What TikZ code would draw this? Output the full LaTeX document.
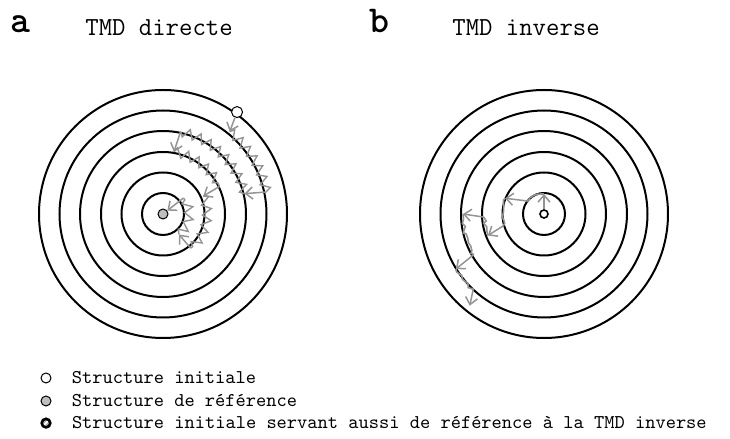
\documentclass[tikz,border=0pt]{standalone}
\usepackage{fontspec}
\newfontfamily\panelfont{lmmonolt10-bold.otf}
\usetikzlibrary{arrows.meta, positioning, calc, decorations.pathmorphing}

\begin{document}
\begin{tikzpicture}[
    x=0.5pt, y=0.5pt,
    ring/.style={draw=black, line width=1pt},
    walk/.style={draw=black!42, line width=0.7pt, decorate,
                 decoration={zigzag, segment length=5.5pt, amplitude=2.3pt}},
    finewalk/.style={draw=black!42, line width=0.8pt, decorate,
                 decoration={random steps, segment length=1.8pt, amplitude=1.1pt}},
    hop/.style={draw=black!42, line width=0.75pt,
                -{Straight Barb[length=3.5pt, width=6pt]}},
    marker/.style={circle, draw=black, line width=0.5pt, inner sep=0pt,
                   minimum size=5pt},
    panel/.style={font=\panelfont\fontsize{19}{22}\selectfont,
                  inner sep=0pt, anchor=base west},
    heading/.style={font=\ttfamily\fontsize{13}{15}\selectfont,
                    inner sep=0pt, anchor=base west},
    legend/.style={font=\ttfamily\fontsize{9.75}{11}\selectfont, inner sep=0pt,
                   text height=1.5ex, text depth=0.2ex}
]
\pgfmathsetseed{11}
\useasboundingbox (0,0) rectangle (730,439);

%% ── Titles ──────────────────────────────────────────────────────────────────
\node[panel]   (pa) at (10,406)  {a};
\node[heading] (ha) at (85,403)  {TMD directe};
\node[panel]   (pb) at (369,406) {b};
\node[heading] (hb) at (452,403) {TMD inverse};

%% ── Rings ───────────────────────────────────────────────────────────────────
\coordinate (ca) at (163,225);
\coordinate (cb) at (544,225);
\foreach \r in {21,41.5,62,83,103.5,124} {
    \draw[ring] (ca) circle[radius=\r];
    \draw[ring] (cb) circle[radius=\r];
}

% Structures
\node[marker, fill=black!25]                 (ra) at (ca) {};
\node[marker, fill=white, minimum size=5.5pt] (sa) at ($(ca)+(54:126)$) {};
\node[marker, fill=white, line width=0.8pt, minimum size=4pt] (rb) at (cb) {};

%% ── a: TMD directe ──────────────────────────────────────────────────────────
\coordinate (a1)  at ($(ca)+(51:106)$);
\coordinate (a2)  at ($(ca)+(12:106)$);
\coordinate (a3)  at ($(ca)+(14:84)$);
\coordinate (a4)  at ($(ca)+(78:84)$);
\coordinate (a5)  at ($(ca)+(80:63)$);
\coordinate (a6)  at ($(ca)+(26:63)$);
\coordinate (a7)  at ($(ca)+(24:44)$);
\coordinate (a8)  at ($(ca)+(-51:44)$);
\coordinate (a9)  at ($(ca)+(-52:26)$);
\coordinate (a10) at ($(ca)+(38:26)$);

\draw[hop]  (sa) -- (a1);
\draw[walk] (a1) arc[start angle=51, end angle=12, radius=106];
\draw[hop]  (a2) -- (a3);
\draw[walk] (a3) arc[start angle=14, end angle=78, radius=84];
\draw[hop]  (a4) -- (a5);
\draw[walk] (a5) arc[start angle=80, end angle=26, radius=63];
\draw[hop]  (a6) -- (a7);
\draw[walk] (a7) arc[start angle=24, end angle=-51, radius=44];
\draw[hop]  (a8) -- (a9);
\draw[walk] (a9) arc[start angle=-52, end angle=38, radius=26];
\draw[hop]  (a10) -- (ra);

%% ── b: TMD inverse ──────────────────────────────────────────────────────────
\coordinate (b1)  at ($(cb)+(90:20)$);
\coordinate (b2)  at ($(cb)+(140:20)$);
\coordinate (b3)  at ($(cb)+(158:42)$);
\coordinate (b4)  at ($(cb)+(196:42)$);
\coordinate (b5)  at ($(cb)+(201:60)$);
\coordinate (b6)  at ($(cb)+(183:60)$);
\coordinate (b7)  at ($(cb)+(180:81)$);
\coordinate (b8)  at ($(cb)+(210:81)$);
\coordinate (b9)  at ($(cb)+(212:104)$);
\coordinate (b10) at ($(cb)+(227:104)$);
\coordinate (b11) at ($(cb)+(231:118)$);

\draw[hop]      (rb) -- (b1);
\draw[finewalk] (b1) arc[start angle=90, end angle=140, radius=20];
\draw[hop]      (b2) -- (b3);
\draw[finewalk] (b3) arc[start angle=158, end angle=196, radius=42];
\draw[hop]      (b4) -- (b5);
\draw[finewalk] (b5) arc[start angle=201, end angle=183, radius=60];
\draw[hop]      (b6) -- (b7);
\draw[finewalk] (b7) arc[start angle=180, end angle=210, radius=81];
\draw[hop]      (b8) -- (b9);
\draw[finewalk] (b9) arc[start angle=212, end angle=227, radius=104];
\draw[hop]      (b10) -- (b11);

%% ── Legend ──────────────────────────────────────────────────────────────────
\node[marker, fill=white, minimum size=5pt] (lg1) at (46,61) {};
\node[marker, fill=black!25, minimum size=5pt, below=6pt of lg1] (lg2) {};
\node[marker, fill=black!30, line width=1.3pt, minimum size=4.3pt,
      below=5.5pt of lg2,
      path picture={\draw[white, line width=0.8pt]
          (path picture bounding box.south west) --
          (path picture bounding box.north east);}] (lg3) {};

\node[legend, right=10pt of lg1] (tx1) {Structure initiale};
\node[legend, right=10pt of lg2] (tx2) {Structure de référence};
\node[legend, right=10pt of lg3] (tx3)
      {Structure initiale servant aussi de référence à la TMD inverse};

\end{tikzpicture}
\end{document}
